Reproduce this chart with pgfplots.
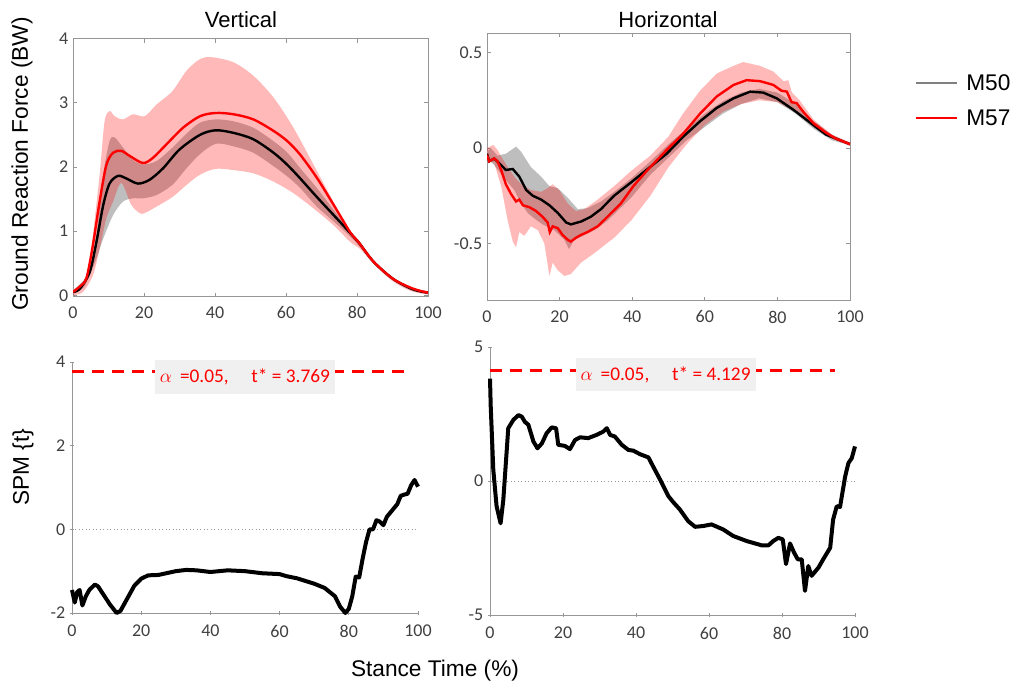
\documentclass[border=0pt]{standalone}
\usepackage{fontspec}
\setmainfont{Liberation Sans}
\newfontfamily\tickfont{Carlito}
\usepackage{pgfplots}
\pgfplotsset{compat=1.18}

\definecolor{bandgray}{RGB}{190,190,190}
\definecolor{axgray}{RGB}{150,150,150}
\definecolor{ticktext}{RGB}{64,64,64}
\definecolor{boxgray}{RGB}{240,240,240}

\pgfplotsset{
  panel/.style={
    scale only axis, anchor=south west,
    xmin=0, xmax=100, xtick={0,20,...,100},
    axis line style={axgray, line width=0.6pt},
    tick style={axgray, line width=0.5pt},
    tick align=inside, major tick length=3pt,
    ticklabel style={font=\tickfont\fontsize{13.5}{14}\selectfont, text=ticktext},
    /pgf/number format/assume math mode=true,
    xticklabel style={yshift=-4pt},
  },
  spm/.style={panel, axis lines=left, axis line style={-}, clip=false},
  bandG/.style={fill=bandgray, draw=none},
  bandR/.style={fill=red, fill opacity=0.275, draw=none},
}

\begin{document}
\begin{tikzpicture}
\useasboundingbox (0,0) rectangle (762pt,516pt);

% ---- Vertical GRF ----
\begin{axis}[panel, at={(54.75pt,293.6pt)}, width=266.25pt, height=193.5pt,
    ymin=-0.02, ymax=4, ytick={0,1,2,3,4}]
  % M50 band: upper, then lower reversed
  \addplot[bandG, smooth] coordinates {
    (0,0.08) (4.5,0.35) (6.6,0.95) (8.5,1.88) (10.3,2.4) (11.7,2.46) (14.1,2.3)
    (16.9,2.11) (19.7,2.04) (23.5,2.09) (28,2.3) (32,2.52) (35.8,2.69) (40.2,2.74)
    (45.2,2.71) (50.8,2.61) (56.5,2.4) (60.4,2.22) (64,1.98) (68.7,1.67) (73.4,1.33)
    (78,0.99) (81,0.8) (85,0.52) (90,0.27) (95,0.11) (100,0.05)
    (100,0.02) (95,0.08) (90,0.24) (85,0.48) (81,0.74) (78,0.92) (73.4,1.15) (68.7,1.38)
    (64,1.67) (60.4,1.85) (56.5,2.01) (50.8,2.22) (45.2,2.32) (40.2,2.36) (35.8,2.2)
    (32,1.98) (28,1.72) (23.5,1.56) (19.7,1.51) (16.9,1.51) (14.1,1.46) (11.3,1.25)
    (8.5,0.88) (6.6,0.57) (5,0.35) (3,0.12) (0,0.02)} -- cycle;
  % M57 band
  \addplot[bandR, smooth] coordinates {
    (0,0.08) (2.8,0.2) (4.5,0.4) (5.6,0.93) (7.5,1.88) (8.9,2.71) (10.3,2.87)
    (11.7,2.79) (14.1,2.74) (16.9,2.82) (20.2,2.79) (23.5,2.97) (28,3.18) (32,3.5)
    (35.8,3.68) (39,3.71) (45.2,3.63) (50.8,3.42) (56.5,3.08) (62.1,2.61) (67.8,2.03)
    (73.4,1.45) (77.2,1.06) (80.9,0.8) (85,0.53) (90,0.28) (95,0.12) (100,0.06)
    (100,0.01) (95,0.07) (90,0.22) (85,0.47) (80.9,0.72) (78.1,0.83) (73.4,1.09)
    (67.8,1.35) (62.1,1.59) (56.5,1.77) (50.8,1.9) (45.2,1.95) (40.2,1.97) (35.8,1.88)
    (32,1.72) (28,1.53) (23.5,1.38) (20.2,1.28) (18.8,1.28) (16.4,1.41) (13.6,1.75)
    (11.3,1.46) (9.4,1.2) (7.5,0.72) (5.6,0.31) (2.8,0.05) (0,0.0)} -- cycle;
  \addplot[black, line width=1.8pt, smooth] coordinates {
    (0,0.05) (1.9,0.1) (4.7,0.36) (6.6,0.83) (8.5,1.4) (10.3,1.74) (12.7,1.86)
    (15,1.82) (18.3,1.74) (21.6,1.8) (25.4,1.98) (30,2.27) (35.8,2.5) (40.2,2.57)
    (45.2,2.53) (50.8,2.43) (56.5,2.22) (60.4,2.03) (64,1.82) (68.7,1.53) (73.4,1.25)
    (78.1,0.97) (80.4,0.83) (84.7,0.52) (90.3,0.25) (95.9,0.09) (100,0.04)};
  \addplot[red, line width=1.8pt, smooth] coordinates {
    (0,0.05) (2,0.14) (3.8,0.27) (5.6,0.78) (7.5,1.46) (9.4,2.03) (11.3,2.22)
    (13.6,2.25) (16,2.17) (19.7,2.06) (22.5,2.14) (26.3,2.35) (31,2.61) (35.8,2.79)
    (40.2,2.84) (45.2,2.82) (50.8,2.74) (56.5,2.56) (60.4,2.4) (64,2.19) (68.7,1.83)
    (73.4,1.41) (78.1,0.98) (80.4,0.83) (84.7,0.52) (90.3,0.25) (95.9,0.1) (100,0.04)};
\end{axis}

% ---- Horizontal GRF ----
\begin{axis}[panel, at={(365.25pt,290.4pt)}, width=272.25pt, height=200.55pt,
    ymin=-0.8, ymax=0.6, ytick={-0.5,0,0.5}]
  \addplot[bandG] coordinates {
    (0,-0.02) (1,0.0) (2.9,-0.04) (5.2,-0.03) (8,0.007) (9.4,-0.02) (12.1,-0.1)
    (14.9,-0.15) (17.2,-0.2) (19.5,-0.21) (22.2,-0.26) (25,-0.32) (27.7,-0.315)
    (31.4,-0.28) (35,-0.23) (39.7,-0.16) (45,-0.07) (50,0.02) (55,0.1) (60,0.18)
    (65,0.245) (70,0.29) (75,0.31) (80,0.29) (85,0.23) (90,0.14) (95,0.07) (100,0.025)
    (100,0.015) (95,0.04) (90,0.1) (85,0.18) (80,0.24) (75,0.26) (70,0.23) (65,0.18)
    (60,0.11) (55,0.04) (50,-0.05) (45,-0.14) (39.7,-0.26) (33.2,-0.38) (29.6,-0.43)
    (25.9,-0.465) (24,-0.48) (22.6,-0.53) (21.3,-0.48) (18.5,-0.43) (15.3,-0.4)
    (13.1,-0.37) (11.2,-0.34) (9.4,-0.29) (7.5,-0.22) (4.8,-0.16) (2,-0.09) (0,-0.05)} -- cycle;
  \addplot[bandR] coordinates {
    (0,0.0) (1.7,0.016) (2.9,-0.01) (3.9,-0.045) (5.7,-0.1) (7.5,-0.15) (9.4,-0.19)
    (12.1,-0.22) (14.9,-0.23) (16.7,-0.21) (18.1,-0.19) (19.9,-0.22) (22.2,-0.29)
    (24.5,-0.33) (26.8,-0.32) (30.5,-0.27) (35,-0.2) (39.7,-0.12) (45,-0.04) (50,0.06)
    (54,0.18) (58.7,0.3) (63.3,0.39) (67.9,0.43) (70.6,0.45) (75.2,0.43) (78.9,0.4)
    (81.7,0.35) (83,0.355) (84,0.29) (86.1,0.25) (89.9,0.15) (95,0.07) (100,0.03)
    (100,0.01) (95,0.05) (90,0.11) (85,0.19) (80,0.24) (75,0.25) (70,0.23) (65,0.19)
    (60,0.12) (55,0.02) (50,-0.1) (45,-0.25) (39.7,-0.38) (35,-0.47) (29.6,-0.55)
    (25.9,-0.6) (23.1,-0.66) (21.3,-0.67) (19.5,-0.64) (18.1,-0.6) (17.2,-0.67)
    (15.8,-0.5) (14,-0.43) (12.1,-0.41) (10.3,-0.46) (8.9,-0.44) (8,-0.52) (7.1,-0.49)
    (5.7,-0.38) (3.9,-0.2) (2,-0.08) (0,-0.06)} -- cycle;
  \addplot[black, line width=1.8pt] coordinates {
    (0,-0.03) (0.6,-0.07) (2,-0.055) (3.9,-0.09) (5.2,-0.115) (7.1,-0.11) (8.9,-0.15)
    (10.8,-0.22) (12.6,-0.25) (14.9,-0.27) (17.2,-0.3) (19.5,-0.34) (21.8,-0.39)
    (23.1,-0.4) (25.9,-0.385) (28.6,-0.36) (31.4,-0.32) (35,-0.25) (39.7,-0.18)
    (44.9,-0.1) (49.5,-0.03) (54.1,0.06) (58.7,0.14) (63.3,0.21) (67.9,0.26)
    (72.5,0.295) (76.1,0.29) (79.8,0.26) (84.4,0.2) (89.9,0.12) (93.4,0.07) (96,0.05) (100,0.02)};
  \addplot[red, line width=1.8pt] coordinates {
    (0,-0.037) (0.6,-0.07) (2,-0.055) (2.9,-0.07) (3.9,-0.115) (5.2,-0.19) (6.6,-0.24)
    (8,-0.28) (8.9,-0.27) (9.9,-0.3) (11.7,-0.31) (13.5,-0.33) (15.3,-0.36) (16.7,-0.39)
    (17.3,-0.44) (18.1,-0.41) (19.5,-0.42) (20.8,-0.455) (22.2,-0.48) (23.1,-0.49)
    (24.5,-0.47) (25.9,-0.455) (27.7,-0.44) (30.5,-0.41) (33.2,-0.36) (36.9,-0.29)
    (40.3,-0.2) (44,-0.12) (49.5,-0.01) (54.1,0.076) (58.7,0.18) (63.3,0.27) (67.9,0.33)
    (71.5,0.355) (75.2,0.35) (78.9,0.33) (81.1,0.30) (82.6,0.295) (83.9,0.24)
    (85.3,0.235) (87.1,0.19) (89.9,0.13) (93.4,0.08) (96,0.05) (100,0.02)};
\end{axis}

% ---- SPM vertical ----
\begin{axis}[spm, at={(54pt,56.25pt)}, width=259.5pt, height=188.25pt,
    ymin=-2, ymax=4, ytick={-2,0,2,4}]
  \addplot[black!40, dotted, line width=0.6pt] coordinates {(0,0) (100,0)};
  \addplot[red, line width=2.4pt, dash pattern=on 8.75pt off 6.25pt] coordinates {(0,3.769) (98,3.769)};
  \addplot[black, line width=3pt, line join=round] coordinates {
    (0,-1.45) (0.8,-1.75) (1.5,-1.5) (2.2,-1.45) (3,-1.82) (4,-1.6) (5,-1.45) (6.6,-1.32)
    (7.5,-1.36) (9,-1.55) (11,-1.8) (12.9,-2.0) (14,-1.95) (16,-1.65) (18,-1.35) (20,-1.18)
    (22,-1.1) (25,-1.09) (30,-1.0) (33,-0.97) (36,-0.98) (40,-1.02) (45,-0.98) (50,-1.0)
    (55,-1.05) (60,-1.07) (62,-1.12) (65,-1.17) (70,-1.3) (73,-1.4) (76,-1.6) (77.5,-1.85)
    (79,-2.0) (80,-1.9) (81,-1.6) (82,-1.13) (83,-1.15) (84,-0.7) (85,-0.3) (86,0.0)
    (87,0.0) (88,0.22) (89,0.18) (90,0.1) (91,0.3) (92,0.4) (93,0.5) (94,0.6) (95,0.8)
    (96,0.83) (97,0.85) (98,1.05) (99,1.18) (100,1.02)};
  \node[fill=boxgray, minimum width=135pt, minimum height=25pt, inner sep=0pt, text=red,
        font=\tickfont\fontsize{14.5}{16}\selectfont, yshift=-3.9pt]
    at (axis cs:50,3.769) {$\alpha$\hspace{6pt}=0.05,\hspace{17pt}t* = 3.769};
\end{axis}

% ---- SPM horizontal ----
\begin{axis}[spm, at={(367.5pt,54.75pt)}, width=273.75pt, height=201pt,
    ymin=-5, ymax=5, ytick={-5,0,5}]
  \addplot[black!40, dotted, line width=0.6pt] coordinates {(0,0) (100,0)};
  \addplot[red, line width=2.4pt, dash pattern=on 8.75pt off 6.25pt] coordinates {(0,4.129) (94.5,4.129)};
  \addplot[black, line width=3pt, line join=round] coordinates {
    (0,3.82) (0.2,2.77) (0.9,0.42) (1.8,-0.94) (2.9,-1.58) (3.65,-0.7) (5,1.97) (6.4,2.28)
    (7.8,2.46) (8.7,2.4) (9.6,2.2) (10.5,2.1) (11.9,1.47) (13,1.22) (14.2,1.4) (15.5,1.78)
    (16.9,2.0) (18.1,1.97) (18.7,1.35) (20.5,1.31) (21.9,1.19) (23.3,1.53) (24.7,1.63)
    (26.9,1.6) (29.2,1.72) (31,1.84) (32,1.97) (32.9,1.72) (34.2,1.66) (36.1,1.35)
    (37.9,1.16) (39.3,1.13) (41.1,1.0) (43.4,0.88) (44.7,0.54) (46.6,0.05) (48.9,-0.57)
    (50.2,-0.79) (52,-1.06) (54.3,-1.5) (56.2,-1.71) (58.4,-1.68) (60.7,-1.62) (63.9,-1.81)
    (66.6,-2.05) (70.3,-2.24) (74.4,-2.4) (76.3,-2.4) (77.6,-2.24) (79,-2.12) (80.2,-2.18)
    (81.1,-3.1) (82.2,-2.33) (83.3,-2.67) (84.3,-2.92) (85.4,-2.92) (86.3,-4.1) (87.2,-3.17)
    (88.1,-3.54) (90,-3.23) (91.3,-2.92) (93.2,-2.49) (94,-1.44) (95,-0.94) (95.9,-0.97)
    (97.3,0.17) (98.2,0.67) (99.1,0.85) (100,1.29)};
  \node[fill=boxgray, minimum width=135pt, minimum height=25pt, inner sep=0pt, text=red,
        font=\tickfont\fontsize{14.5}{16}\selectfont, yshift=-3.3pt]
    at (axis cs:48.1,4.129) {$\alpha$\hspace{6pt}=0.05,\hspace{17pt}t* = 4.129};
\end{axis}

% ---- titles, labels, legend ----
\node[font=\fontsize{16.5}{20}\selectfont] at (180.75pt,501pt) {Vertical};
\node[font=\fontsize{16.5}{20}\selectfont] at (501pt,501pt) {Horizontal};
\node[rotate=90, font=\fontsize{17}{20}\selectfont] at (16.5pt,393pt) {Ground Reaction Force (BW)};
\node[rotate=90, font=\fontsize{17}{20}\selectfont] at (17.25pt,165.75pt) {SPM \{t\}};
\node[font=\fontsize{17}{20}\selectfont] at (326.25pt,12.75pt) {Stance Time (\%)};
\draw[gray, line width=0.8pt] (687pt,453.75pt) -- (717.75pt,453.75pt);
\draw[red, line width=0.8pt] (687pt,427.5pt) -- (717.75pt,427.5pt);
\node[anchor=west, inner sep=0pt, font=\fontsize{17}{20}\selectfont] at (724.5pt,453.75pt) {M50};
\node[anchor=west, inner sep=0pt, font=\fontsize{17}{20}\selectfont] at (724.5pt,427.5pt) {M57};
\end{tikzpicture}
\end{document}
